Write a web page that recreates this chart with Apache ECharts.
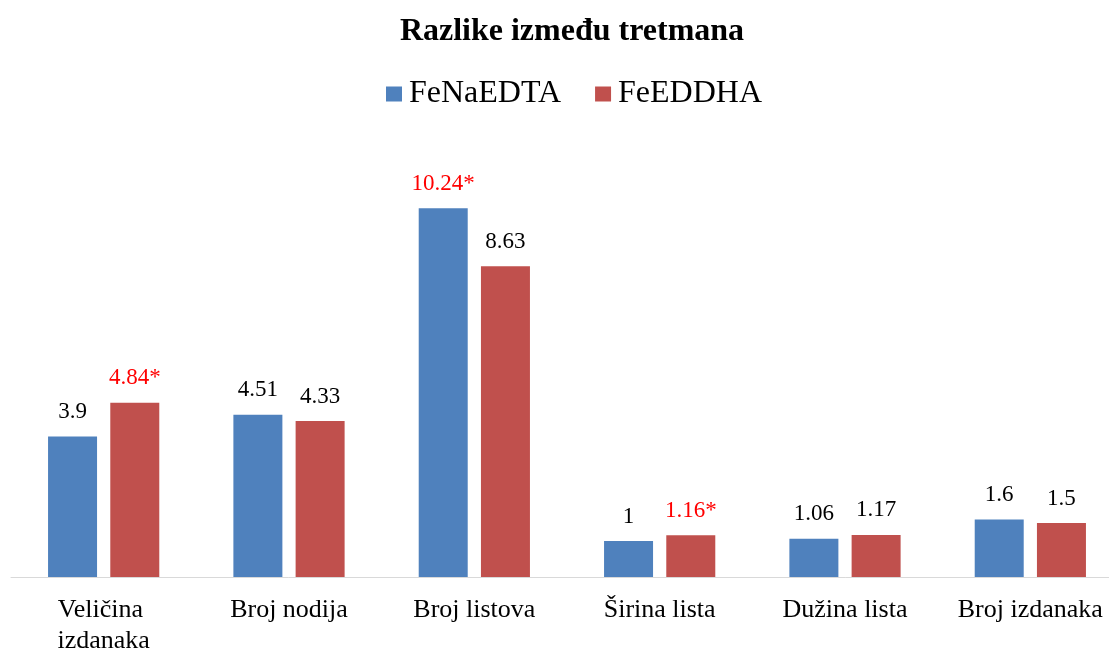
<!DOCTYPE html>
<html>
<head>
<meta charset="utf-8">
<script src="https://cdn.jsdelivr.net/npm/echarts@6/dist/echarts.min.js"></script>
<style>
  html, body { margin: 0; padding: 0; background: #fff; overflow: hidden; }
  #chart { width: 1130px; height: 657px; }
</style>
</head>
<body>
<div id="chart"></div>
<script>
// podaci
var categories = ['Veličina izdanaka', 'Broj nodija', 'Broj listova', 'Širina lista', 'Dužina lista', 'Broj izdanaka'];
var fenaedta = [3.9, 4.51, 10.24, 1, 1.06, 1.6];
var feeddha = [4.84, 4.33, 8.63, 1.16, 1.17, 1.5];
// statistički značajno (*)
var fenaedtaSig = [false, false, true, false, false, false];
var feeddhaSig = [true, false, false, true, false, false];

function buildData(vals, sig) {
    return vals.map(function (v, i) {
        return {
            value: v,
            sig: sig[i],
            label: { color: sig[i] ? '#FF0000' : '#000000' }
        };
    });
}

var myChart = echarts.init(document.getElementById('chart'));
var font = '"Liberation Serif", "Times New Roman", serif';

var option = {
    backgroundColor: '#ffffff',
    animation: false,
    title: {
        text: 'Razlike između tretmana',
        left: 567,
        textAlign: 'center',
        top: 11,
        textStyle: { fontFamily: font, fontSize: 32, fontWeight: 'bold', color: '#000' }
    },
    legend: {
        data: ['FeNaEDTA', 'FeEDDHA'],
        top: 73,
        left: 381,
        icon: 'rect',
        itemWidth: 16,
        itemHeight: 15,
        itemGap: 34,
        textStyle: { fontFamily: font, fontSize: 32, color: '#000', padding: [0, 0, 0, 2] }
    },
    grid: {
        left: 11,
        top: 145,
        width: 1112,
        height: 438,
        containLabel: false
    },
    xAxis: {
        type: 'category',
        data: categories,
        axisLine: { lineStyle: { color: '#D9D9D9', width: 1 } },
        axisTick: { show: false },
        axisLabel: {
            interval: 0,
            margin: 18,
            fontFamily: font,
            fontSize: 26,
            color: '#000',
            lineHeight: 31,
            width: 178,
            overflow: 'break'
        }
    },
    yAxis: {
        type: 'value',
        min: 0,
        max: 12,
        show: false,
        splitLine: { show: false }
    },
    series: [
        {
            name: 'FeNaEDTA',
            type: 'bar',
            data: buildData(fenaedta, fenaedtaSig),
            barWidth: 49,
            barGap: '27%',
            itemStyle: { color: '#4F81BD' },
            label: {
                show: true,
                position: 'top',
                distance: 13,
                fontFamily: font,
                fontSize: 23,
                formatter: function (p) { return p.value + (p.data.sig ? '*' : ''); }
            }
        },
        {
            name: 'FeEDDHA',
            type: 'bar',
            data: buildData(feeddha, feeddhaSig),
            barWidth: 49,
            itemStyle: { color: '#C0504D' },
            label: {
                show: true,
                position: 'top',
                distance: 13,
                fontFamily: font,
                fontSize: 23,
                formatter: function (p) { return p.value + (p.data.sig ? '*' : ''); }
            }
        }
    ]
};

myChart.setOption(option);
</script>
</body>
</html>
